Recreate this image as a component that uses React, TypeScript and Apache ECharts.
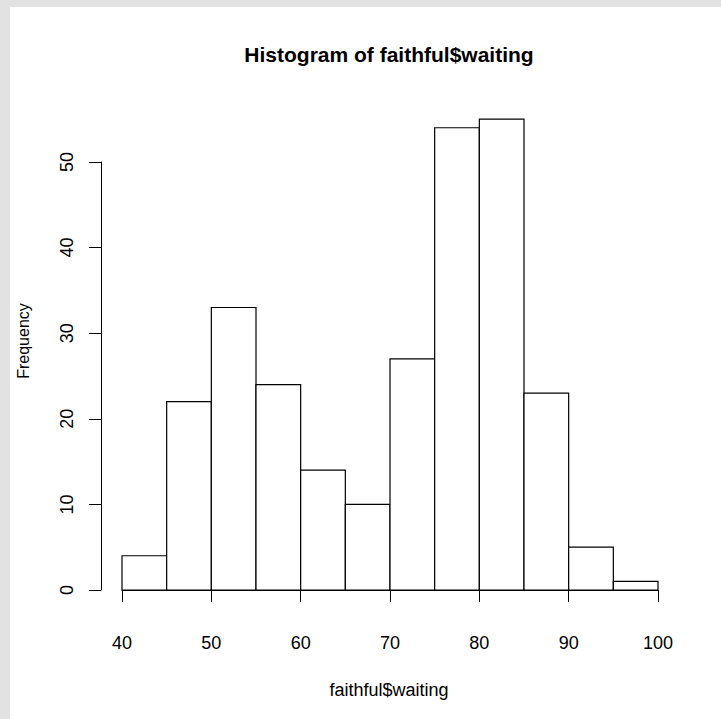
import React, { useEffect, useRef } from "react";
import * as echarts from "echarts";

const breaks = [40, 45, 50, 55, 60, 65, 70, 75, 80, 85, 90, 95, 100];
const counts = [4, 22, 33, 24, 14, 10, 27, 54, 55, 23, 5, 1];
const xTicks = [40, 50, 60, 70, 80, 90, 100];
const yTicks = [0, 10, 20, 30, 40, 50];
const titleText = "Histogram of faithful$waiting";
const xLabel = "faithful$waiting";
const yLabel = "Frequency";

const FONT = "'Liberation Sans', Arial, Helvetica, sans-serif";

export default function App() {
  const ref = useRef<HTMLDivElement>(null);
  useEffect(() => {
    if (!ref.current) return;
    const chart = echarts.init(ref.current, null, { renderer: "svg" });
    const data = counts.map((c, i) => [breaks[i], breaks[i + 1], c]);
    chart.setOption({
      animation: false,
      backgroundColor: "#ffffff",
      graphic: [
        { type: "rect", z: -10, shape: { x: 0, y: 0, width: 721, height: 7 }, style: { fill: "#e2e2e2" } },
        { type: "rect", z: -10, shape: { x: 0, y: 0, width: 10, height: 719 }, style: { fill: "#e2e2e2" } },
        {
          type: "text",
          x: 389,
          y: 54,
          style: {
            text: titleText,
            font: `bold 21px ${FONT}`,
            fill: "#000",
            textAlign: "center",
            textVerticalAlign: "middle",
          },
        },
        {
          type: "text",
          x: 389,
          y: 690,
          style: {
            text: xLabel,
            font: `18px ${FONT}`,
            fill: "#000",
            textAlign: "center",
            textVerticalAlign: "middle",
          },
        },
        {
          type: "text",
          x: 23,
          y: 341,
          rotation: Math.PI / 2,
          style: {
            text: yLabel,
            font: `16px ${FONT}`,
            fill: "#000",
            textAlign: "center",
            textVerticalAlign: "middle",
          },
        },
      ],
      grid: { left: 122, right: 63, top: 162, bottom: 129, containLabel: false },
      xAxis: {
        type: "value",
        min: xTicks[0],
        max: xTicks[xTicks.length - 1],
        interval: 10,
        offset: 20,
        splitLine: { show: false },
        axisLine: { show: true, lineStyle: { color: "#000", width: 1 } },
        axisTick: { show: true, length: 12, lineStyle: { color: "#000", width: 1 } },
        axisLabel: { color: "#000", fontSize: 18, fontFamily: FONT, margin: 24 },
      },
      yAxis: {
        type: "value",
        min: yTicks[0],
        max: yTicks[yTicks.length - 1],
        interval: 10,
        offset: 21,
        splitLine: { show: false },
        axisLine: { show: true, lineStyle: { color: "#000", width: 1 } },
        axisTick: { show: true, length: 12, lineStyle: { color: "#000", width: 1 } },
        axisLabel: { color: "#000", fontSize: 18, fontFamily: FONT, margin: 25, rotate: 90 },
      },
      series: [
        {
          type: "custom",
          clip: false,
          data,
          encode: { x: [0, 1], y: 2 },
          renderItem: (params: any, api: any) => {
            const p0 = api.coord([api.value(0), 0]);
            const p1 = api.coord([api.value(1), api.value(2)]);
            return {
              type: "rect",
              shape: { x: p0[0], y: p1[1], width: p1[0] - p0[0], height: p0[1] - p1[1] },
              style: { fill: "#ffffff", stroke: "#000000", lineWidth: 1.2 },
            };
          },
        },
      ],
    });
    return () => chart.dispose();
  }, []);
  return (
    <div
      ref={ref}
      style={{ position: "fixed", left: 0, top: 0, width: 721, height: 719 }}
    />
  );
}
